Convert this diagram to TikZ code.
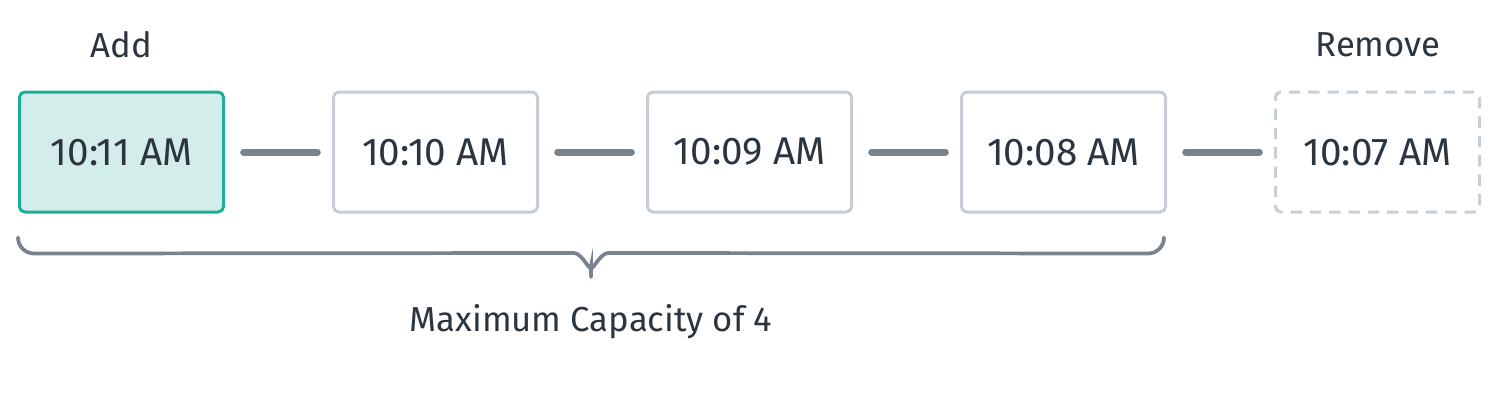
\documentclass[tikz,border=0pt]{standalone}
\usepackage{fontspec}
\setmainfont{Fira Sans}
\usetikzlibrary{calc}

\definecolor{textdark}{HTML}{2B3540}
\definecolor{linkgray}{HTML}{78838F}
\definecolor{boxgray}{HTML}{C5CDD6}
\definecolor{dashgray}{HTML}{C8D0D7}
\definecolor{addteal}{HTML}{20AC9A}
\definecolor{addfill}{HTML}{D2EDEA}

\tikzset{every picture/.style={line width=0.75pt}}
\tikzset{
  slot/.style={draw=boxgray, line width=2.25pt, rounded corners=4pt, fill=white,
    minimum width=153pt, minimum height=90pt, inner sep=0pt,
    text=textdark, font=\fontsize{29}{33}\selectfont},
  newslot/.style={slot, draw=addteal, fill=addfill},
  oldslot/.style={slot, draw=dashgray, dash pattern=on 8.5pt off 6pt},
  link/.style={draw=linkgray, line width=5.25pt, line cap=round, shorten <=14pt, shorten >=11pt},
  caption/.style={text=textdark, font=\fontsize{26}{30}\selectfont, inner sep=0pt}
}

\begin{document}
\begin{tikzpicture}[x=0.75pt,y=0.75pt,yscale=-1,xscale=1]
	\path[use as bounding box] (0,0) rectangle (1500,400);

	% Slots
	\node [newslot] (s11) at (121.5,152) {10:11 AM};
	\node [slot]    (s10) at (435.5,152) {10:10 AM};
	\node [slot]    (s09) at (749.5,152) {10:09 AM};
	\node [slot]    (s08) at (1063.5,152) {10:08 AM};
	\node [oldslot] (s07) at (1377.5,152) {10:07 AM};

	% Text Node
	\node [caption] (add) at (121.5,45) {Add};
	% Text Node
	\node [caption] (remove) at (1378,45) {Remove};
	% Text Node
	\node [caption] (cap) at (591,322) {Maximum Capacity of 4};

	% Connection
	\draw [link] (s11.east) -- (s10.west);
	\draw [link] (s10.east) -- (s09.west);
	\draw [link] (s09.east) -- (s08.west);
	\draw [link] (s08.east) -- (s07.west);

	% Brace
	\coordinate (bl) at ($(s11.south west)+(0,24)$);
	\coordinate (br) at ($(s08.south east)+(-3,24)$);
	\coordinate (bm) at (591,266);
	\draw [linkgray, line width=2.8pt, line cap=round]
		(bl) to[out=90,in=180,looseness=1] ++(16,16) -- ($(bm)+(-17,-13)$)
		to[out=0,in=90] (bm) -- ++(0,11);
	\draw [linkgray, line width=2.8pt, line cap=round]
		(br) to[out=90,in=0,looseness=1] ++(-16,16) -- ($(bm)+(17,-13)$)
		to[out=180,in=90] (bm);

\end{tikzpicture}
\end{document}
